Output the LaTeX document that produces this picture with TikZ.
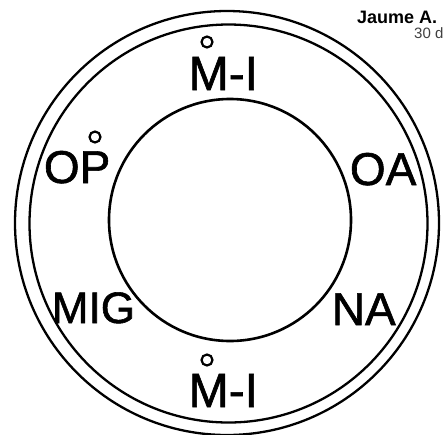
\documentclass[tikz,border=0pt]{standalone}
\usepackage{fontspec}
\setmainfont{Liberation Sans}
\newfontfamily\medfont[FakeBold=1.3]{Liberation Sans}
\begin{document}
\begin{tikzpicture}[x=1pt,y=1pt,
  ring/.style={line width=2.3pt},
  lbl/.style={anchor=base west,inner sep=0pt,font=\medfont\fontsize{46}{46}\selectfont},
  dot/.style={line width=2.2pt}]
\useasboundingbox (0,0) rectangle (443,-434);
\fill[white] (0,0) rectangle (443,-434);
\coordinate (c) at (227,-223);
\draw[ring] (c) circle[radius=212];
\draw[ring] (228.5,-223.5) circle[radius=199];
\draw[line width=2.6pt] (230,-220) circle[radius=121];
\node[lbl,font=\medfont\fontsize{48}{48}\selectfont] (mitop) at (188.5,-90) {M-I};
\node[lbl,font=\medfont\fontsize{48}{48}\selectfont] (mibot) at (188.5,-407) {M-I};
\node[lbl] (op) at (43.7,-183) {OP};
\node[lbl] (oa) at (349.7,-185) {OA};
\node[lbl,font=\medfont\fontsize{44}{44}\selectfont] (mig) at (51.7,-323) {MIG};
\node[lbl] (na) at (331.6,-325) {NA};
\draw[dot] (207,-42) circle[radius=5.5];
\draw[dot] (207,-360) circle[radius=5.5];
\draw[dot] (95,-137) circle[radius=5.5];
\node[anchor=base west,inner sep=0pt,font=\fontsize{18}{18}\selectfont\bfseries] (author) at (357,-23) {Jaume A.};
\node[anchor=base west,inner sep=0pt,font=\fontsize{15}{15}\selectfont,text=black!75] (date) at (414,-38) {30 d};
\end{tikzpicture}
\end{document}
